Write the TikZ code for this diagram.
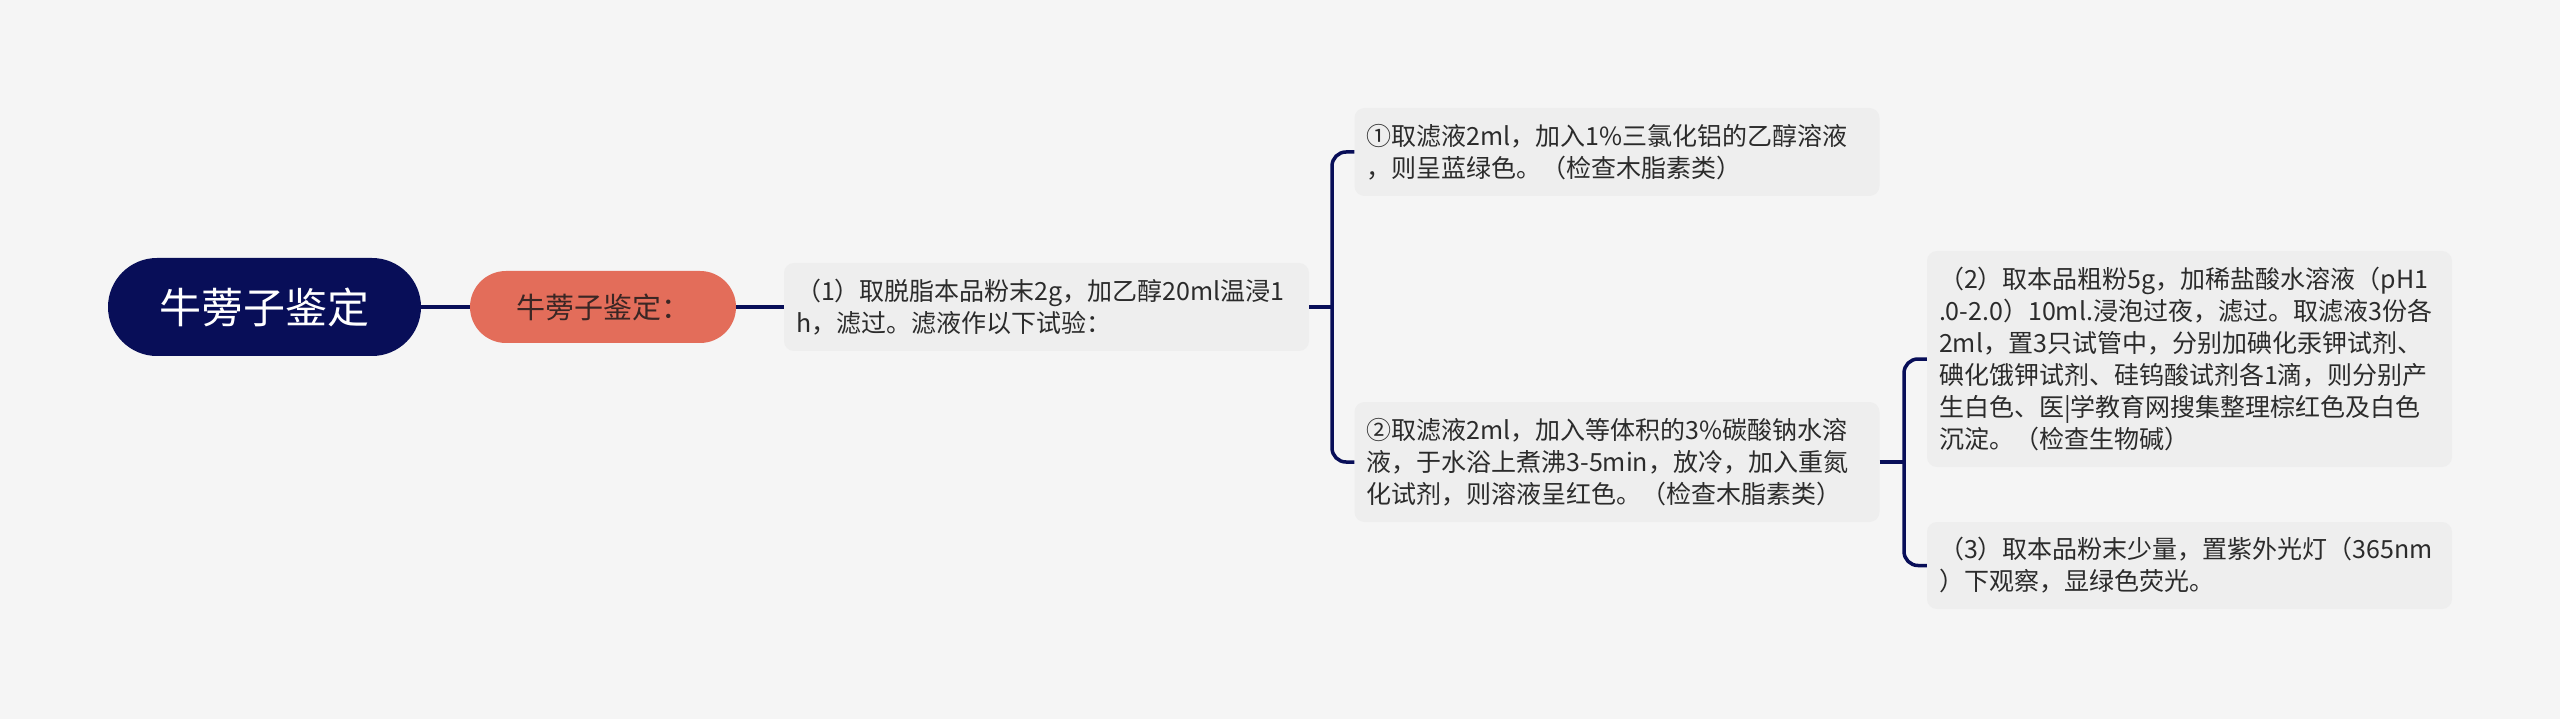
\documentclass[tikz,border=0pt]{standalone}
\usepackage{fontspec}
\setmainfont{Noto Sans CJK SC}
\definecolor{bgc}{HTML}{F5F5F5}
\definecolor{boxc}{HTML}{EEEEEE}
\definecolor{navy}{RGB}{8,14,88}
\definecolor{orangec}{HTML}{E36D5A}
\definecolor{txtc}{HTML}{2B2B2B}
\definecolor{otxt}{HTML}{3A2624}
\begin{document}
\begin{tikzpicture}[x=1pt,y=-1pt,
  leaf/.style={fill=boxc, rounded corners=10pt, text width=501pt, inner xsep=12pt, inner ysep=0pt,
    align=left, text=txtc, font=\fontsize{25}{32}\selectfont},
  conn/.style={draw=navy, line width=3.5pt},
  brk/.style={draw=navy, line width=3.5pt, rounded corners=14pt}]
\useasboundingbox[fill=bgc] (0,0) rectangle (2560,719);

\node[fill=navy, rounded corners=49pt, minimum width=313pt, minimum height=98pt, inner sep=0pt,
  text=white, font=\fontsize{42}{50}\selectfont] (root) at (264.5,307) {牛蒡子鉴定};
\node[fill=orangec, rounded corners=36pt, minimum width=266pt, minimum height=72pt, inner sep=0pt,
  text=otxt, font=\fontsize{29}{36}\selectfont] (sub) at (603,307) {牛蒡子鉴定：};

\node[leaf, minimum height=88pt] (n1) at (1046.5,307) {（1）取脱脂本品粉末2g，加乙醇20ml温浸1\\h，滤过。滤液作以下试验：};
\node[leaf, minimum height=88pt] (c1) at (1617,152) {①取滤液2ml，加入1\%三氯化铝的乙醇溶液\\，则呈蓝绿色。（检查木脂素类）};
\node[leaf, minimum height=120pt] (c2) at (1617,462) {②取滤液2ml，加入等体积的3\%碳酸钠水溶\\液，于水浴上煮沸3-5min，放冷，加入重氮\\化试剂，则溶液呈红色。（检查木脂素类）};
\node[leaf, minimum height=216pt] (d1) at (2189.5,359) {（2）取本品粗粉5g，加稀盐酸水溶液（pH1\\.0-2.0）10ml.浸泡过夜，滤过。取滤液3份各\\2ml，置3只试管中，分别加碘化汞钾试剂、\\碘化饿钾试剂、硅钨酸试剂各1滴，则分别产\\生白色、医|学教育网搜集整理棕红色及白色\\沉淀。（检查生物碱）};
\node[leaf, minimum height=87pt] (d2) at (2189.5,565.5) {（3）取本品粉末少量，置紫外光灯（365nm\\）下观察，显绿色荧光。};

\coordinate (b1) at (1332,307);
\coordinate (b2) at (1904,462);

\draw[conn] (root.east) -- (sub.west);
\draw[conn] (sub.east) -- (n1.west);
\draw[conn] (n1.east) -- (b1);
\draw[brk] (c1.west) -| (b1) |- (c2.west);
\draw[conn] (c2.east) -- (b2);
\draw[brk] (d1.west) -| (b2) |- (d2.west);
\end{tikzpicture}
\end{document}
